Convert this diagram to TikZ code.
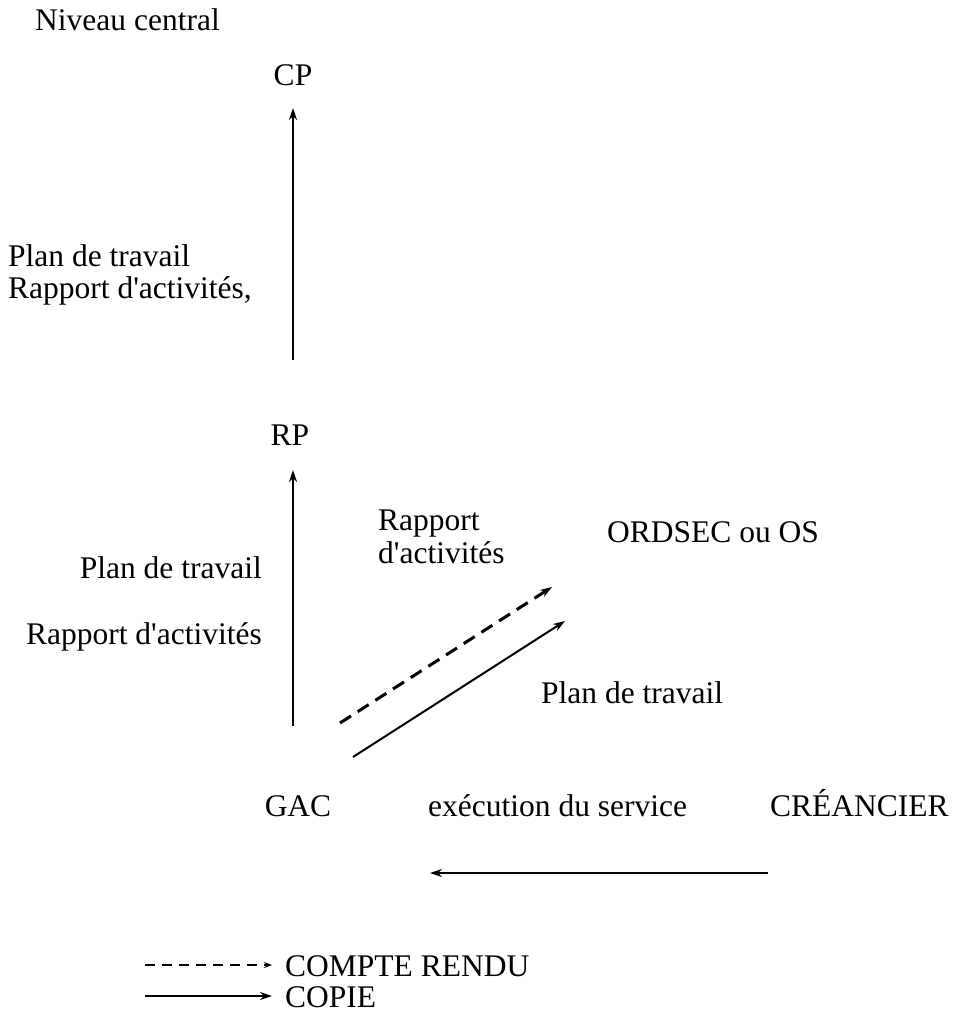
\documentclass[tikz,border=0pt]{standalone}
\usepackage{fontspec}
\setmainfont{Liberation Serif}
\usepackage{tikz}
\usetikzlibrary{arrows.meta}

\begin{document}
\begin{tikzpicture}[
  x=1pt, y=-1pt,
  lbl/.style={inner sep=0pt, font=\fontsize{31.5}{35}\selectfont},
  lft/.style={lbl, anchor=west, align=left},
  rgt/.style={lbl, anchor=east, align=right},
  arr/.style={-{Stealth[length=12pt, width=8pt]}, line width=2pt},
  darr/.style={arr, line width=3pt, dash pattern=on 13pt off 8pt}
]
  \useasboundingbox (0,0) rectangle (965,1019);
  % niveaux
  \node[lft] (niv) at (35,20) {Niveau central};
  \node[lbl] (cp) at (293,75) {CP};
  \node[lbl] (rp) at (290,435) {RP};
  \node[lbl, anchor=base] (gac) at (298,816) {GAC};
  \node[lft] (ord) at (607,532) {ORDSEC ou OS};
  \node[lbl, anchor=base west] (cre) at (770,816) {CRÉANCIER};
  % textes des fleches
  \node[lft] (pt1) at (8,256) {Plan de travail};
  \node[lft] (ra1) at (8,291) {Rapport d\textquotesingle activités,};
  \node[rgt] (pt2) at (262,568) {Plan de travail};
  \node[rgt] (ra2) at (262,637) {Rapport d\textquotesingle activités};
  \node[lft] (ra3) at (378,537) {Rapport\\[-2pt]d\textquotesingle activités};
  \node[lft] (pt3) at (541,693) {Plan de travail};
  \node[lbl, anchor=base west] (exe) at (428,816) {exécution du service};
  % extremites
  \coordinate (cpA) at (293,360);
  \coordinate (cpB) at (293,108);
  \coordinate (rpA) at (293,726);
  \coordinate (rpB) at (293,470);
  \coordinate (crA) at (340,723);
  \coordinate (crB) at (552,587);
  \coordinate (coA) at (353,757);
  \coordinate (coB) at (565,621);
  \coordinate (exA) at (768,873);
  \coordinate (exB) at (430,873);
  \draw[arr] (cpA) -- (cpB);
  \draw[arr] (rpA) -- (rpB);
  \draw[darr] (crA) -- (crB);
  \draw[arr] (coA) -- (coB);
  \draw[arr] (exA) -- (exB);
  % legende
  \node[lft] (lg1) at (285,966) {COMPTE RENDU};
  \node[lft] (lg2) at (285,997) {COPIE};
  \coordinate (l1) at (145,965);
  \coordinate (l2) at (145,996);
  \draw[arr, line width=2.5pt, dash pattern=on 10pt off 7pt,
        -{Stealth[length=8pt, width=6pt]}, shorten >=13pt] (l1) -- (l1 -| lg1.west);
  \draw[arr, shorten >=13pt] (l2) -- (l2 -| lg2.west);
\end{tikzpicture}
\end{document}
